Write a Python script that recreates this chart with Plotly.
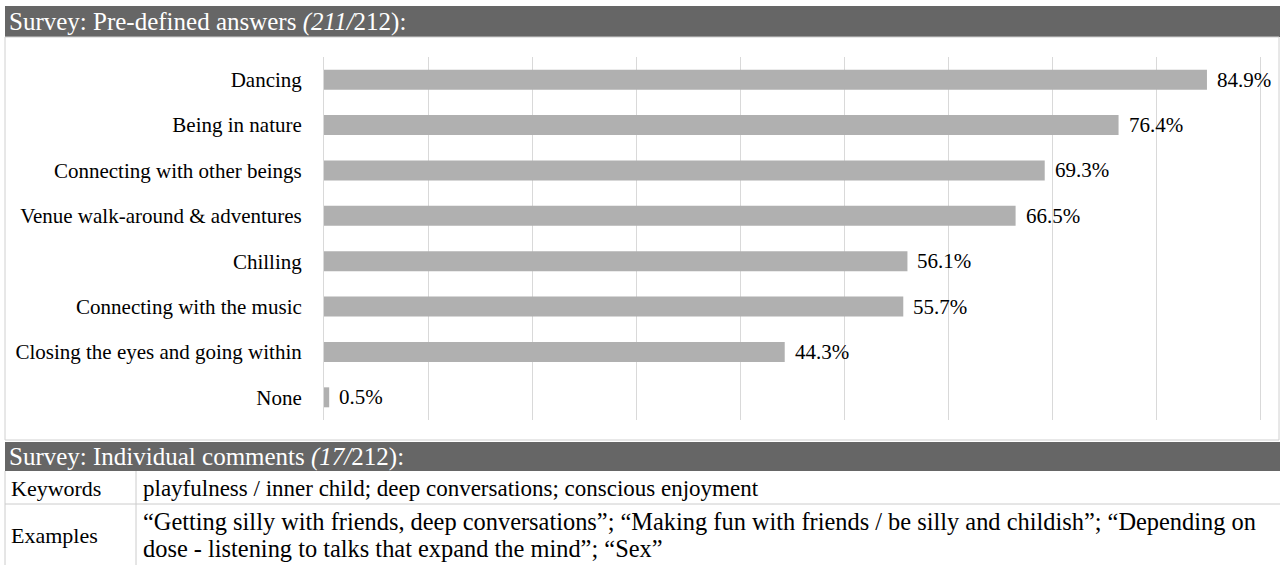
import plotly.graph_objects as go

categories = ["Dancing", "Being in nature", "Connecting with other beings",
              "Venue walk-around & adventures", "Chilling", "Connecting with the music",
              "Closing the eyes and going within", "None"]
values = [84.9, 76.4, 69.3, 66.5, 56.1, 55.7, 44.3, 0.5]
value_labels = ["84.9%", "76.4%", "69.3%", "66.5%", "56.1%", "55.7%", "44.3%", "0.5%"]

header1 = "Survey: Pre-defined answers <i>(211/</i>212):"
header2 = "Survey: Individual comments <i>(17/</i>212):"
keywords_label = "Keywords"
keywords_text = "playfulness / inner child; deep conversations; conscious enjoyment"
examples_label = "Examples"
examples_lines = ["\u201cGetting silly with friends, deep conversations\u201d; \u201cMaking fun with friends / be silly and childish\u201d; \u201cDepending on",
                  "dose - listening to talks that expand the mind\u201d; \u201cSex\u201d"]

W, H = 1280, 565
FONT = "Liberation Serif"
LBL = 21
HDR = 25
TBL = 23
EXM = 24.4
TBL_LBL = 22

def px(x):
    return x / W

def py(y):
    return 1 - y / H

fig = go.Figure()
fig.add_trace(go.Bar(
    x=values, y=categories, orientation="h",
    marker=dict(color="#b0b0b0", line=dict(width=0)),
    hoverinfo="skip",
))

shapes = []
shapes.append(dict(type="rect", xref="paper", yref="paper", x0=px(5), x1=px(1280), y0=py(37), y1=py(6),
                   fillcolor="#666666", line=dict(width=0), layer="below"))
shapes.append(dict(type="rect", xref="paper", yref="paper", x0=px(5), x1=px(1279), y0=py(440), y1=py(37),
                   fillcolor="rgba(0,0,0,0)", line=dict(color="#d0d0d0", width=1), layer="below"))
shapes.append(dict(type="rect", xref="paper", yref="paper", x0=px(5), x1=px(1280), y0=py(471), y1=py(442),
                   fillcolor="#666666", line=dict(width=0), layer="below"))
shapes.append(dict(type="line", xref="paper", yref="paper", x0=px(5), x1=px(1280), y0=py(504), y1=py(504),
                   line=dict(color="#cccccc", width=1)))
shapes.append(dict(type="line", xref="paper", yref="paper", x0=px(136), x1=px(136), y0=py(565), y1=py(471),
                   line=dict(color="#cccccc", width=1)))
shapes.append(dict(type="line", xref="paper", yref="paper", x0=px(5), x1=px(5), y0=py(565), y1=py(471),
                   line=dict(color="#cccccc", width=1)))

def txt(text, x, y, size, color="black"):
    return dict(text=text, xref="paper", yref="paper", x=px(x), y=py(y), xanchor="left",
                yanchor="middle", align="left", showarrow=False,
                font=dict(family=FONT, size=size, color=color))

annotations = [
    txt(header1, 7, 22, HDR, "white"),
    txt(header2, 7, 457, HDR, "white"),
    txt(keywords_label, 9, 488, TBL_LBL),
    txt(keywords_text, 141, 488, TBL),
    txt(examples_label, 9, 535, TBL_LBL),
]
for i, line in enumerate(examples_lines):
    annotations.append(txt(line, 141, 521 + 27 * i, EXM))

for v, c, t in zip(values, categories, value_labels):
    annotations.append(dict(text=t, x=v, y=c, xref="x", yref="y", xanchor="left", yanchor="middle",
                            xshift=8, showarrow=False, font=dict(family=FONT, size=LBL, color="black")))

fig.update_layout(
    width=W, height=H,
    margin=dict(l=0, r=0, t=0, b=0),
    paper_bgcolor="white", plot_bgcolor="white",
    showlegend=False,
    bargap=0.56,
    shapes=shapes,
    annotations=annotations,
    xaxis=dict(domain=[px(324), px(324 + 91 * 10.4)], range=[0, 91], dtick=10, showgrid=True,
               gridcolor="#d9d9d9", gridwidth=1, zeroline=False, showline=False,
               showticklabels=False, ticks="", fixedrange=True),
    yaxis=dict(domain=[py(420), py(57)], autorange="reversed", showgrid=False, zeroline=False,
               showline=True, linecolor="#d9d9d9", linewidth=1,
               ticks="", ticklabelstandoff=17,
               tickfont=dict(family=FONT, size=LBL, color="black"), fixedrange=True),
    font=dict(family=FONT),
)

fig.write_html("out.html", config={"displayModeBar": False})
